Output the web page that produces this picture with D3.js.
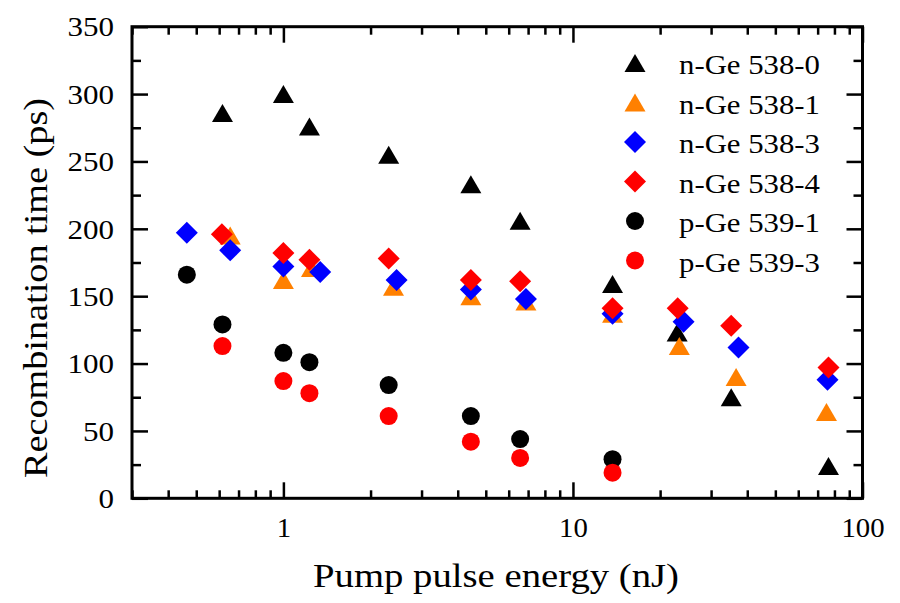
<!DOCTYPE html>
<html>
<head>
<meta charset="utf-8">
<script src="https://cdn.jsdelivr.net/npm/d3@7"></script>
<style>
  body { margin: 0; background: #fff; }
</style>
</head>
<body>
<div id="chart"></div>
<script>
// series labels (legend order)
const seriesNames = ["n-Ge 538-0", "n-Ge 538-1", "n-Ge 538-3", "n-Ge 538-4", "p-Ge 539-1", "p-Ge 539-3"];

// pump pulse energy (nJ) and recombination time (ps)
const energy538_0 = [0.616, 1.0, 1.23, 2.31, 4.44, 6.57, 13.7, 22.9, 35.2, 76.3];
const tau538_0    = [286, 300, 276, 255, 233, 206, 159, 123, 75, 24];

const energy538_1 = [0.655, 1.0, 1.25, 2.40, 4.44, 6.88, 13.7, 23.3, 36.6, 75.1];
const tau538_1    = [195, 162, 171, 157, 150, 146, 137, 113, 90, 64];

const energy538_3 = [0.464, 0.655, 1.0, 1.34, 2.46, 4.44, 6.88, 13.7, 24.1, 37.3, 75.7];
const tau538_3    = [197, 184, 172, 168, 162, 155, 148, 137, 131, 112, 88];

const energy538_4 = [0.613, 1.0, 1.23, 2.31, 4.44, 6.57, 13.7, 23.0, 35.2, 76.3];
const tau538_4    = [196, 182, 177, 178, 162, 161, 141, 141, 128, 97];

const energy539_1 = [0.464, 0.616, 1.0, 1.23, 2.31, 4.44, 6.57, 13.7];
const tau539_1    = [166, 129, 108, 101, 84, 61, 44, 29];

const energy539_3 = [0.616, 1.0, 1.23, 2.31, 4.44, 6.57, 13.7];
const tau539_3    = [113, 87, 78, 61, 42, 30, 19];

// tick labels
const xTickLabels = [1, 10, 100];
const yTickLabels = [0, 50, 100, 150, 200, 250, 300, 350];

const W = 900, H = 603;
const plotL = 132, plotR = 862.5, plotT = 26.7, plotB = 498.3;
const FONT = "Liberation Serif";

const svg = d3.select("#chart").append("svg")
  .attr("width", W).attr("height", H)
  .attr("font-family", FONT);

const x = d3.scaleLog().domain([0.3, 100]).range([plotL, plotR]);
const y = d3.scaleLinear().domain([0, 350]).range([plotB, plotT]);

// custom marker shapes
const triUp = {
  draw(ctx, size) {
    const w = 21, h = 18;
    ctx.moveTo(0, -h / 2);
    ctx.lineTo(w / 2, h / 2);
    ctx.lineTo(-w / 2, h / 2);
    ctx.closePath();
  }
};
const diamond = {
  draw(ctx, size) {
    const r = 11;
    ctx.moveTo(0, -r);
    ctx.lineTo(r, 0);
    ctx.lineTo(0, r);
    ctx.lineTo(-r, 0);
    ctx.closePath();
  }
};
const dot = {
  draw(ctx, size) {
    ctx.moveTo(9, 0);
    ctx.arc(0, 0, 9, 0, 2 * Math.PI);
  }
};

const series = [
  { name: seriesNames[0], xs: energy538_0, ys: tau538_0, shape: triUp,   color: "#000000" },
  { name: seriesNames[1], xs: energy538_1, ys: tau538_1, shape: triUp,   color: "#FF8000" },
  { name: seriesNames[2], xs: energy538_3, ys: tau538_3, shape: diamond, color: "#0000FF" },
  { name: seriesNames[3], xs: energy538_4, ys: tau538_4, shape: diamond, color: "#FF0000" },
  { name: seriesNames[4], xs: energy539_1, ys: tau539_1, shape: dot,     color: "#000000" },
  { name: seriesNames[5], xs: energy539_3, ys: tau539_3, shape: dot,     color: "#FF0000" }
];

// ticks
const xMinor = [];
[0.1, 1, 10].forEach(function(d) {
  for (let k = 2; k <= 9; k++) {
    const v = d * k;
    if (v >= 0.3 && v < 100) xMinor.push(v);
  }
});
const yMinor = d3.range(25, 350, 50);

function styleAxis(g) {
  g.attr("font-family", FONT);
  g.select(".domain").remove();
  g.selectAll("line").attr("stroke", "#000").attr("stroke-width", 2.5);
}

svg.append("g").attr("transform", "translate(0," + plotB + ")")
  .call(d3.axisBottom(x).tickValues(xMinor).tickSize(-8).tickFormat(""))
  .call(styleAxis);
svg.append("g").attr("transform", "translate(0," + plotT + ")")
  .call(d3.axisTop(x).tickValues(xMinor).tickSize(-8).tickFormat(""))
  .call(styleAxis);
const xAxis = svg.append("g").attr("transform", "translate(0," + plotB + ")")
  .call(d3.axisBottom(x).tickValues(xTickLabels).tickSize(-16).tickPadding(0).tickFormat(d3.format("d")))
  .call(styleAxis);
svg.append("g").attr("transform", "translate(0," + plotT + ")")
  .call(d3.axisTop(x).tickValues(xTickLabels).tickSize(-16).tickFormat(""))
  .call(styleAxis);

xAxis.selectAll("text")
  .attr("y", 39).attr("dy", null)
  .attr("font-size", 27)
  .attr("fill", "#000")
  .attr("textLength", function(d) { return String(d).length * 14.4; })
  .attr("lengthAdjust", "spacingAndGlyphs");

svg.append("g").attr("transform", "translate(" + plotL + ",0)")
  .call(d3.axisLeft(y).tickValues(yMinor).tickSize(-9).tickFormat(""))
  .call(styleAxis);
svg.append("g").attr("transform", "translate(" + plotR + ",0)")
  .call(d3.axisRight(y).tickValues(yMinor).tickSize(-9).tickFormat(""))
  .call(styleAxis);
const yAxis = svg.append("g").attr("transform", "translate(" + plotL + ",0)")
  .call(d3.axisLeft(y).tickValues(yTickLabels).tickSize(-16).tickPadding(18).tickFormat(d3.format("d")))
  .call(styleAxis);
svg.append("g").attr("transform", "translate(" + plotR + ",0)")
  .call(d3.axisRight(y).tickValues(yTickLabels).tickSize(-16).tickFormat(""))
  .call(styleAxis);

yAxis.selectAll("text")
  .attr("font-size", 27)
  .attr("fill", "#000")
  .attr("dy", "0.34em")
  .attr("textLength", function(d) { return String(d).length * 15.5; })
  .attr("lengthAdjust", "spacingAndGlyphs");

// frame
svg.append("rect")
  .attr("x", plotL).attr("y", plotT)
  .attr("width", plotR - plotL).attr("height", plotB - plotT)
  .attr("fill", "none").attr("stroke", "#000").attr("stroke-width", 3);

// markers
series.forEach(function(s) {
  const pts = s.xs.map(function(v, i) { return { e: v, t: s.ys[i] }; });
  svg.append("g").selectAll("path")
    .data(pts)
    .enter()
    .append("path")
    .attr("d", d3.symbol().type(s.shape))
    .attr("fill", s.color)
    .attr("transform", function(d) { return "translate(" + x(d.e) + "," + y(d.t) + ")"; });
});

// legend
const legend = svg.append("g").attr("transform", "translate(635,63)");
legend.selectAll("path")
  .data(series)
  .enter()
  .append("path")
  .attr("d", function(d) { return d3.symbol().type(d.shape)(); })
  .attr("fill", function(d) { return d.color; })
  .attr("transform", function(d, i) { return "translate(0," + i * 39.5 + ")"; });
legend.selectAll("text")
  .data(series)
  .enter()
  .append("text")
  .attr("x", 44)
  .attr("y", function(d, i) { return i * 39.5 + 11; })
  .attr("font-size", 28)
  .attr("textLength", 141)
  .attr("lengthAdjust", "spacingAndGlyphs")
  .text(function(d) { return d.name; });

// axis titles
svg.append("text")
  .attr("x", 496).attr("y", 587)
  .attr("text-anchor", "middle")
  .attr("font-size", 33)
  .attr("textLength", 366)
  .attr("lengthAdjust", "spacingAndGlyphs")
  .text("Pump pulse energy (nJ)");

svg.append("text")
  .attr("transform", "translate(47,288) rotate(-90)")
  .attr("text-anchor", "middle")
  .attr("font-size", 33)
  .attr("textLength", 380)
  .attr("lengthAdjust", "spacingAndGlyphs")
  .text("Recombination time (ps)");
</script>
</body>
</html>
